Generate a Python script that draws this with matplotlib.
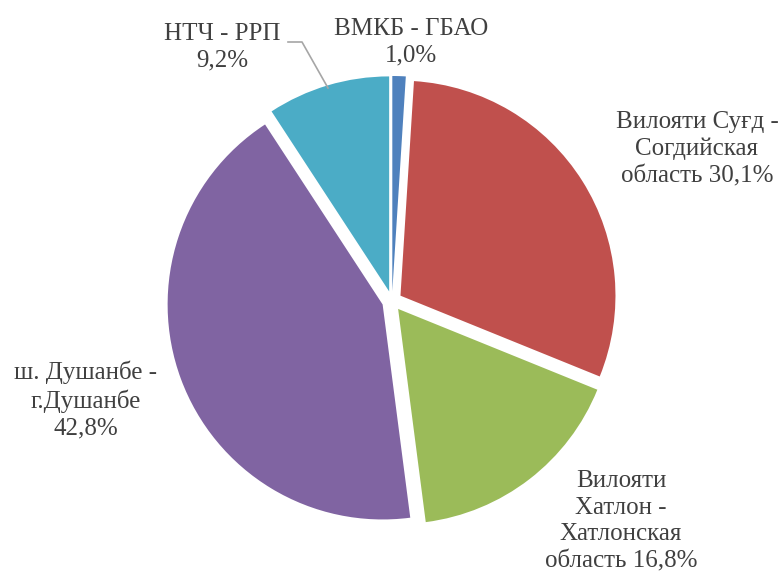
import matplotlib
matplotlib.use("Agg")
import matplotlib.pyplot as plt

plt.rcParams['font.family'] = ['Liberation Serif', 'DejaVu Serif']

# Data
regions = ["ВМКБ - ГБАО\n",
           "Вилояти Суғд -\nСогдийская\nобласть ",
           "Вилояти\nХатлон -\nХатлонская\nобласть ",
           "ш. Душанбе -\nг.Душанбе\n",
           "НТЧ - РРП\n"]
shares = [1.0, 30.1, 16.8, 42.8, 9.2]
colors = ["#4F81BD", "#C0504D", "#9BBB59", "#8064A2", "#4BACC6"]

W, H = 780, 574
fig = plt.figure(figsize=(W / 100, H / 100), dpi=100)
ax = fig.add_axes([0, 0, 1, 1])

def py(y):
    return H - y

cx, cy, R = 392, 301, 215
ax.pie(shares, colors=colors, startangle=90, counterclock=False,
       explode=[10] * len(shares), center=(cx, py(cy)), radius=R,
       wedgeprops=dict(linewidth=0))
ax.set_xlim(0, W)
ax.set_ylim(0, H)
ax.set_aspect('auto')
ax.axis('off')

label_pos = [(411, 42), (697, 149), (621, 521), (86, 400), (222, 47)]
txt_color = "#404040"
for name, val, (x, y) in zip(regions, shares, label_pos):
    label = name + f"{val:.1f}%".replace('.', ',')
    ax.text(x, py(y), label, ha='center', va='center', multialignment='center',
            fontsize=18, color=txt_color, linespacing=1.28)

# leader line for НТЧ - РРП
ax.plot([288, 302, 328], [py(42), py(42), py(88)], color="#A6A6A6", lw=1.2)

fig.savefig("out.png", dpi=100)
